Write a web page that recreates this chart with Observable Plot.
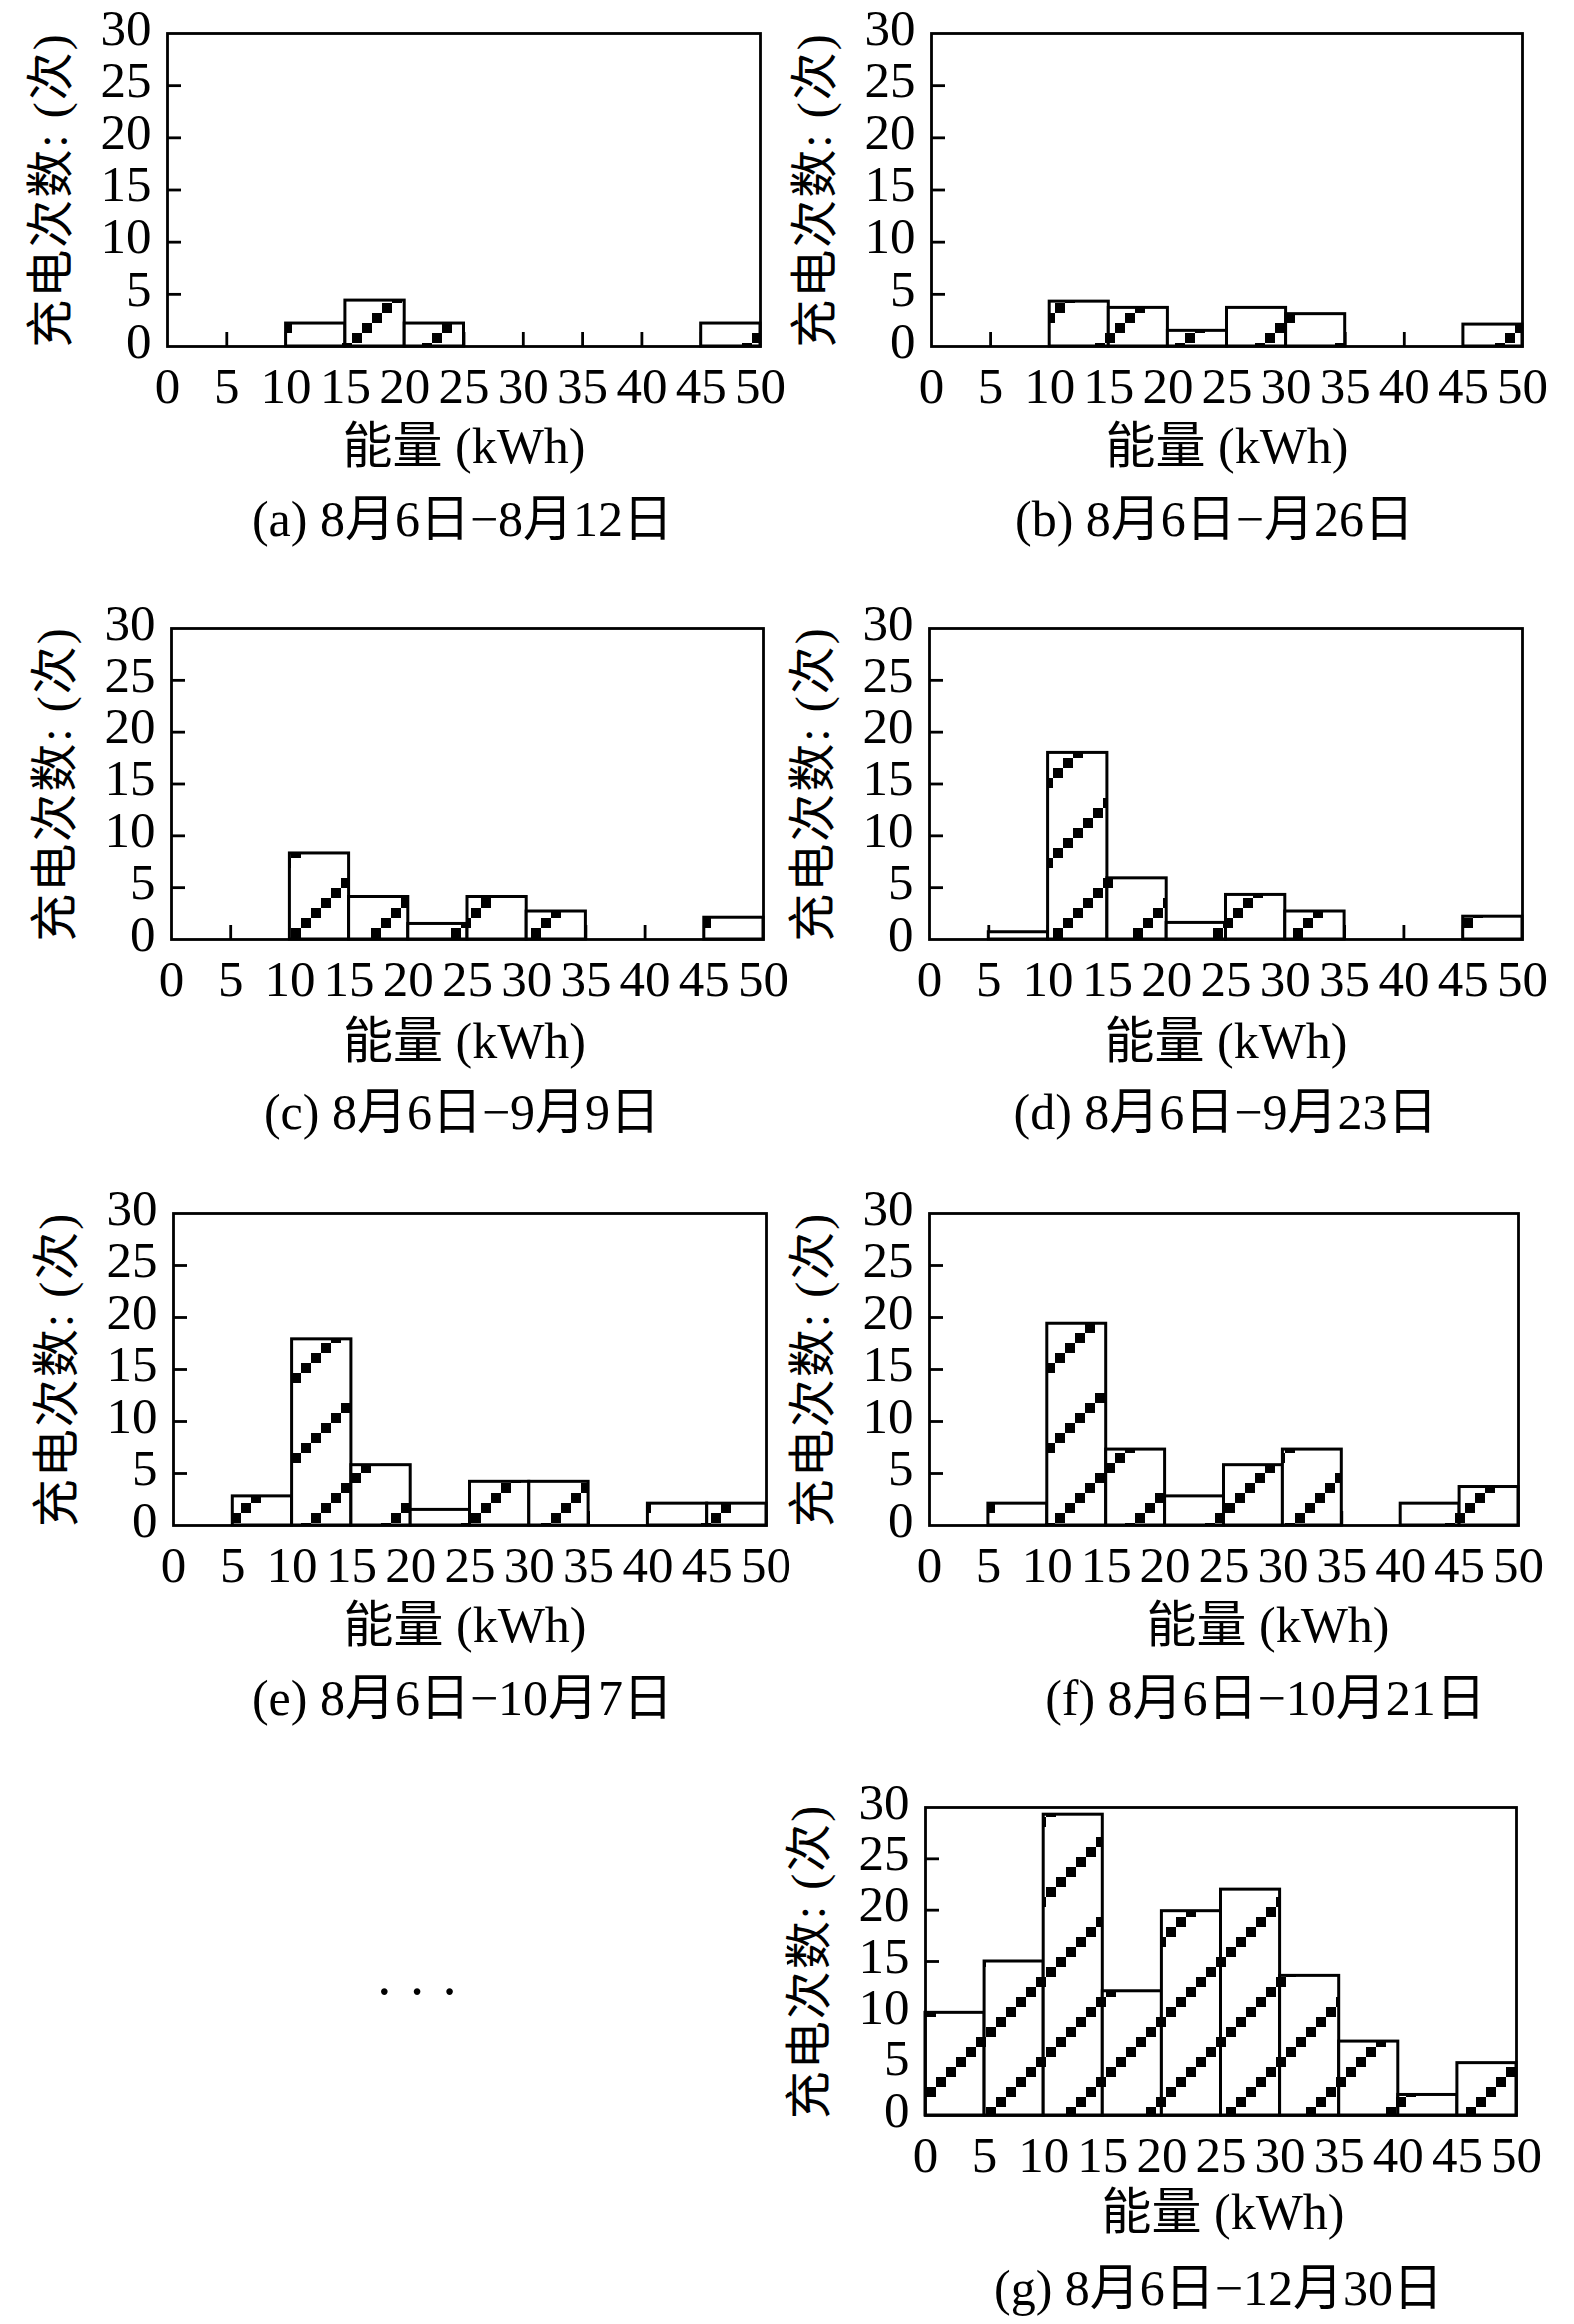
<!DOCTYPE html>
<html><head><meta charset="utf-8">
<script src="https://cdn.jsdelivr.net/npm/d3@7"></script>
<script src="https://cdn.jsdelivr.net/npm/@observablehq/plot@0.6"></script>
<style>
html,body{margin:0;padding:0;background:#fff;}
#fig{position:relative;width:1575px;height:2325px;background:#fff;overflow:hidden;font-family:"Liberation Serif","Noto Sans CJK SC",serif;color:#000;}
.panel{position:absolute;}
.caption{position:absolute;font-size:50px;line-height:50px;white-space:nowrap;transform:translateX(-50%);}
.dots{position:absolute;font-size:56px;line-height:56px;white-space:nowrap;transform:translateX(-50%);}
</style></head><body><div id="fig"></div>
<script>
// ---- data ----
const binStart = [0, 5, 10, 15, 20, 25, 30, 35, 40, 45];
const binWidth = 5;
const countsA = [0, 0, 2.2, 4.4, 2.2, 0, 0, 0, 0, 2.2];
const countsB = [0, 0, 4.3, 3.7, 1.5, 3.7, 3.1, 0, 0, 2.1];
const countsC = [0, 0, 8.3, 4.1, 1.5, 4.1, 2.7, 0, 0, 2.1];
const countsD = [0, 0.7, 18.0, 5.9, 1.6, 4.3, 2.7, 0, 0, 2.2];
const countsE = [0, 2.8, 17.9, 5.8, 1.5, 4.2, 4.2, 0, 2.1, 2.1];
const countsF = [0, 2.1, 19.4, 7.3, 2.8, 5.8, 7.3, 0, 2.1, 3.7];
const countsG = [10, 15, 29.3, 12.1, 19.9, 22, 13.6, 7.2, 2.0, 5.1];
const xTickLabels = [0, 5, 10, 15, 20, 25, 30, 35, 40, 45, 50];
const yTickLabels = [0, 5, 10, 15, 20, 25, 30];
const xTickMarks = [5, 10, 15, 20, 25, 30, 35, 40, 45];
const yTickMarks = [5, 10, 15, 20, 25];
const xTitle = "能量 (kWh)";
const yTitle = "充电次数: (次)";
const captionA = "(a) 8月6日−8月12日";
const captionB = "(b) 8月6日−月26日";
const captionC = "(c) 8月6日−9月9日";
const captionD = "(d) 8月6日−9月23日";
const captionE = "(e) 8月6日−10月7日";
const captionF = "(f) 8月6日−10月21日";
const captionG = "(g) 8月6日−12月30日";

// ---- layout (frame position in page pixels) ----
const layout = {
  a: {L: 167, T: 33,   W: 593, H: 313, phase: 22, tdx: 0,  tdy: 100, cdx: -1},
  b: {L: 932, T: 33,   W: 591, H: 313, phase: 11, tdx: 0,  tdy: 100, cdx: -12},
  c: {L: 171, T: 628,  W: 592, H: 311, phase: 39, tdx: -3, tdy: 102, cdx: -5},
  d: {L: 930, T: 628,  W: 593, H: 311, phase: 43, tdx: 0,  tdy: 102, cdx: 0},
  e: {L: 173, T: 1214, W: 593, H: 312, phase: 56, tdx: -5, tdy: 100, cdx: -7},
  f: {L: 930, T: 1214, W: 589, H: 312, phase: 44, tdx: 44, tdy: 100, cdx: 42},
  g: {L: 926, T: 1808, W: 591, H: 308, phase: 63, tdx: 2,  tdy: 97,  cdx: -2}
};

const fig = document.getElementById("fig");
const FONT = '"Liberation Serif", "Noto Sans CJK SC", serif';

function panel(key, counts, caption) {
  const lay = layout[key];
  const mL = 150, mT = 30, mR = 40, mB = 140;
  const rows = binStart.map((x0, i) => ({x1: x0, x2: x0 + binWidth, count: counts[i]})).filter(d => d.count > 0);
  const pid = "hatch-" + key;
  const ox = (((lay.phase + mL + mT + lay.H) % 80) + 80) % 80;
  const defs = () => {
    const g = d3.create("svg:g");
    const p = g.append("defs").append("pattern")
      .attr("id", pid).attr("patternUnits", "userSpaceOnUse")
      .attr("width", 80).attr("height", 80)
      .attr("patternTransform", `translate(${ox},0)`);
    p.append("rect").attr("width", 80).attr("height", 80).attr("fill", "#fff");
    for (let i = 0; i < 8; i++) {
      p.append("rect").attr("x", i * 10).attr("y", 70 - i * 10)
        .attr("width", 10).attr("height", 10).attr("fill", "#000");
    }
    return g.node();
  };
  const svg = Plot.plot({
    width: mL + lay.W + mR,
    height: mT + lay.H + mB,
    marginLeft: mL, marginTop: mT, marginRight: mR, marginBottom: mB,
    x: {domain: [0, 50], label: null},
    y: {domain: [0, 30], label: null},
    style: {fontFamily: FONT, fontSize: "51px", color: "#000", background: "transparent", overflow: "visible"},
    marks: [
      defs,
      Plot.tickX(xTickMarks, {x: d => d, insetTop: lay.H - 14, stroke: "#000", strokeWidth: 2.8}),
      Plot.tickY(yTickMarks, {y: d => d, insetRight: lay.W - 14, stroke: "#000", strokeWidth: 2.8}),
      Plot.rectY(rows, {x1: "x1", x2: "x2", y: "count", fill: `url(#${pid})`, stroke: "#000", strokeWidth: 3}),
      Plot.frame({stroke: "#000", strokeWidth: 2.8}),
      Plot.axisX({ticks: xTickLabels, tickSize: 0, tickPadding: 20, tickFormat: d => String(d), fontSize: 51, label: null}),
      Plot.axisY({ticks: yTickLabels, tickSize: 0, tickPadding: 16, dy: -5, tickFormat: d => String(d), fontSize: 51, label: null}),
      Plot.text([xTitle], {text: d => d, frameAnchor: "bottom", textAnchor: "middle", dx: lay.tdx, dy: lay.tdy, lineAnchor: "middle", fontSize: 50, fill: "#000"}),
      Plot.text([yTitle], {text: d => d, frameAnchor: "left", textAnchor: "middle", rotate: -90, dx: -116, lineAnchor: "middle", fontSize: 48, fill: "#000"})
    ]
  });
  // loosen the y title to the reference length
  d3.select(svg).selectAll("text").filter(function() { return this.textContent === yTitle; })
    .style("letter-spacing", "2px");
  const div = document.createElement("div");
  div.className = "panel";
  div.style.left = (lay.L - mL) + "px";
  div.style.top = (lay.T - mT) + "px";
  div.appendChild(svg);
  fig.appendChild(div);
  const cap = document.createElement("div");
  cap.className = "caption";
  cap.textContent = caption;
  cap.style.left = (lay.L + lay.W / 2 + lay.cdx) + "px";
  cap.style.top = (lay.T + lay.H + 171 - 23) + "px";
  fig.appendChild(cap);
}

panel("a", countsA, captionA);
panel("b", countsB, captionB);
panel("c", countsC, captionC);
panel("d", countsD, captionD);
panel("e", countsE, captionE);
panel("f", countsF, captionF);
panel("g", countsG, captionG);

const dots = document.createElement("div");
dots.className = "dots";
dots.textContent = "· · ·";
dots.style.left = "417px";
dots.style.top = (1998 - 33) + "px";
fig.appendChild(dots);
</script>
</body></html>
